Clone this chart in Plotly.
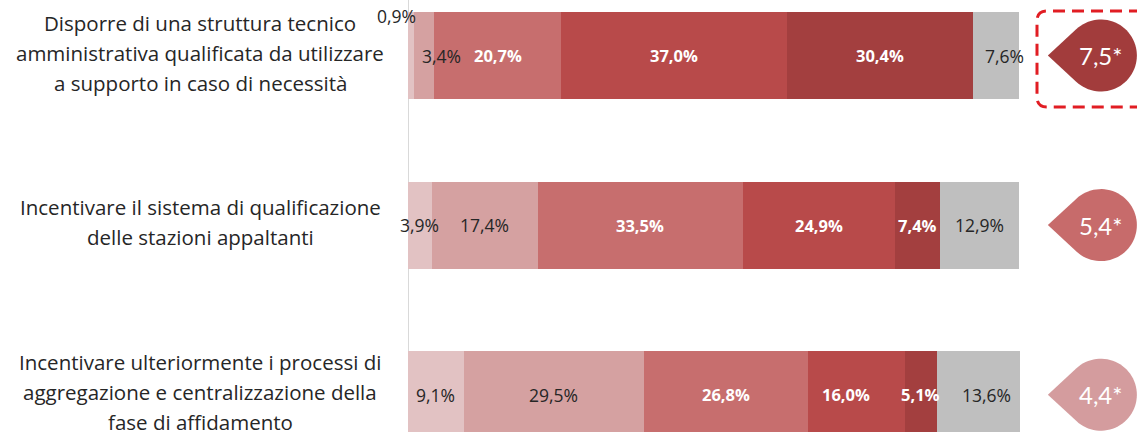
import math
import plotly.graph_objects as go

# --- data -------------------------------------------------------------
categories = [
    "Disporre di una struttura tecnico\namministrativa qualificata da utilizzare\na supporto in caso di necessità",
    "Incentivare il sistema di qualificazione\ndelle stazioni appaltanti",
    "Incentivare ulteriormente i processi di\naggregazione e centralizzazione della\nfase di affidamento",
]
# share of answers per level (1 = lowest ... 5 = highest, then n.d.)
level_1 = [0.9, 3.9, 9.1]
level_2 = [3.4, 17.4, 29.5]
level_3 = [20.7, 33.5, 26.8]
level_4 = [37.0, 24.9, 16.0]
level_5 = [30.4, 7.4, 5.1]
no_answer = [7.6, 12.9, 13.6]
scores = [7.5, 5.4, 4.4]

series = [level_1, level_2, level_3, level_4, level_5, no_answer]
colors = ["#e2c2c3", "#d5a1a1", "#c76e6e", "#b84a4a", "#a33f3f", "#bfbfbf"]
text_colors = ["#262626", "#262626", "#ffffff", "#ffffff", "#ffffff", "#262626"]
score_colors = ["#a23c3c", "#c76b6b", "#d49c9e"]

FONT = "Open Sans"
SCORE_FONT = "Lato"
SCORE_X = 113.4          # horizontal position of the score badges (axis units)
W, H = 1137, 432

def fmt(v, suffix="%"):
    return f"{v:.1f}".replace(".", ",") + suffix

ypos = list(range(len(categories)))

fig = go.Figure()
for vals, col in zip(series, colors):
    fig.add_trace(go.Bar(
        x=vals, y=ypos, orientation="h",
        marker=dict(color=col, line=dict(width=0)),
        hoverinfo="x", showlegend=False,
    ))

annotations = []
shapes = []

# value labels centred on each segment
label_shift = {(0, 0): (-14, 40), (0, 1): (18, 0), (0, 5): (9, 0),
               (2, 3): (-10, 0), (2, 5): (8, 0)}
for i in ypos:
    start = 0.0
    for k, vals in enumerate(series):
        v = vals[i]
        dx, dy = label_shift.get((i, k), (0, 0))
        white = text_colors[k] == "#ffffff"
        annotations.append(dict(
            x=start + v / 2, y=i, xref="x", yref="y",
            text=f"<b>{fmt(v)}</b>" if white else fmt(v),
            showarrow=False, xanchor="center", yanchor="middle",
            xshift=dx, yshift=dy,
            font=dict(family=FONT, size=16.5 if white else 17.5,
                      color=text_colors[k]),
        ))
        start += v

# category labels, one annotation per line for wider leading
LINE = 30
for i, cat in enumerate(categories):
    lines = cat.split("\n")
    n = len(lines)
    for j, ln in enumerate(lines):
        annotations.append(dict(
            x=200 / W, y=i, xref="paper", yref="y",
            text=ln, showarrow=False, xanchor="center", yanchor="middle",
            yshift=((n - 1) / 2 - j) * LINE + 3,
            font=dict(family=FONT, size=20.5, color="#262626"),
        ))

# teardrop badges with the average score
def teardrop(r=36, tip=53, n=60):
    a = math.acos(r / tip)
    start = math.pi - a
    pts = [(-tip, 0.0)]
    for s in range(n + 1):
        ang = start - s * (2 * start) / n
        pts.append((r * math.cos(ang), r * math.sin(ang)))
    return "M " + " L ".join(f"{x:.2f},{y:.2f}" for x, y in pts) + " Z"

drop = teardrop()
for i, sc in enumerate(scores):
    shapes.append(dict(
        type="path", xref="x", yref="y",
        xsizemode="pixel", ysizemode="pixel",
        xanchor=SCORE_X, yanchor=i, path=drop,
        fillcolor=score_colors[i], line=dict(width=0),
    ))
    annotations.append(dict(
        x=SCORE_X, y=i, xref="x", yref="y", text=fmt(sc, "*"),
        showarrow=False, xanchor="center", yanchor="middle",
        font=dict(family=SCORE_FONT, size=24, color="#ffffff"),
    ))

# dashed highlight frame around the top badge
rc = 10
x0, x1, ytop, ybot = 1037, 1160, -11, -107
frame = (f"M {x1},{ytop} L {x0 + rc},{ytop} Q {x0},{ytop} {x0},{ytop - rc} "
         f"L {x0},{ybot + rc} Q {x0},{ybot} {x0 + rc},{ybot} L {x1},{ybot}")
shapes.append(dict(
    type="path", xref="paper", yref="paper",
    xsizemode="pixel", ysizemode="pixel", xanchor=0, yanchor=1,
    path=frame, line=dict(color="#e11d23", width=3, dash="12px,7px"),
))

px_per_unit = (1019 - 408) / 100
fig.update_layout(
    width=W, height=H, margin=dict(l=0, r=0, t=0, b=0),
    paper_bgcolor="#ffffff", plot_bgcolor="#ffffff",
    barmode="stack", bargap=0.487,
    xaxis=dict(range=[-408 / px_per_unit, (W - 408) / px_per_unit],
               showticklabels=False, showgrid=False, ticks="",
               zeroline=True, zerolinecolor="#d9d9d9", zerolinewidth=1,
               fixedrange=True),
    yaxis=dict(range=[(H - 55.5) / 169.6, -55.5 / 169.6],
               showticklabels=False, showgrid=False, zeroline=False,
               fixedrange=True),
    annotations=annotations, shapes=shapes,
    font=dict(family=FONT),
)

fig.write_html("out.html")
